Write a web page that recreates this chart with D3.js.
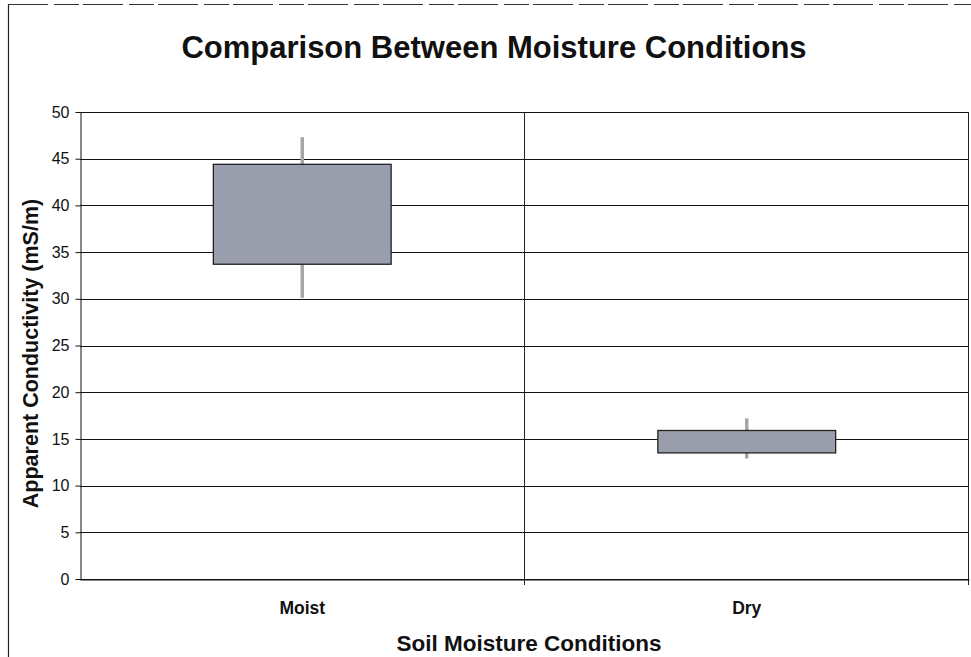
<!DOCTYPE html>
<html>
<head>
<meta charset="utf-8">
<script src="https://cdn.jsdelivr.net/npm/d3@7"></script>
<style>
  body { margin: 0; background: #fff; }
  svg { font-family: "Liberation Sans", Arial, sans-serif; }
</style>
</head>
<body>
<div id="chart"></div>
<script>
  // Data (high/low whiskers, open/close box)
  const categories = ["Moist", "Dry"];
  const highs = [47.3, 17.2];
  const lows = [30.1, 12.9];
  const boxTops = [44.4, 15.9];
  const boxBottoms = [33.7, 13.5];
  const yTicks = [0, 5, 10, 15, 20, 25, 30, 35, 40, 45, 50];

  const svgWidth = 971;
  const svgHeight = 657;
  const margin = { top: 112, right: 2, bottom: 78, left: 80 };

  const svg = d3.select("#chart")
    .append("svg")
    .attr("width", svgWidth)
    .attr("height", svgHeight);

  // Outer frame of the scanned chart
  svg.append("line")
    .attr("x1", 8.5).attr("x2", 8.5)
    .attr("y1", 4).attr("y2", svgHeight)
    .attr("stroke", "#222").attr("stroke-width", 1.2);
  svg.append("line")
    .attr("x1", 8).attr("x2", svgWidth)
    .attr("y1", 4.5).attr("y2", 4.5)
    .attr("stroke", "#333").attr("stroke-width", 1.2)
    .attr("stroke-dasharray", "40 6 25 4");

  // Scales
  const xScale = d3.scaleBand()
    .domain(categories)
    .range([margin.left, svgWidth - margin.right]);

  const yScale = d3.scaleLinear()
    .domain([0, 50])
    .range([svgHeight - margin.bottom, margin.top]);

  const plotLeft = margin.left, plotRight = svgWidth - margin.right;
  const plotTop = margin.top, plotBottom = svgHeight - margin.bottom;

  // Horizontal gridlines
  svg.append("g")
    .selectAll("line")
    .data(yTicks)
    .enter()
    .append("line")
    .attr("x1", plotLeft)
    .attr("x2", plotRight)
    .attr("y1", d => Math.round(yScale(d)) + 0.5)
    .attr("y2", d => Math.round(yScale(d)) + 0.5)
    .attr("stroke", "#111")
    .attr("stroke-width", 1.1);

  // Vertical line between categories and right border
  svg.append("g")
    .selectAll("line")
    .data(categories)
    .enter()
    .append("line")
    .attr("x1", d => Math.round(xScale(d) + xScale.bandwidth()) - 0.5)
    .attr("x2", d => Math.round(xScale(d) + xScale.bandwidth()) - 0.5)
    .attr("y1", plotTop)
    .attr("y2", plotBottom + 6)
    .attr("stroke", "#222")
    .attr("stroke-width", 1);

  // Y axis
  const yAxis = svg.append("g")
    .attr("transform", `translate(${plotLeft + 0.5}, 0)`)
    .call(d3.axisLeft(yScale).tickValues(yTicks).tickSize(5).tickSizeOuter(0).tickPadding(6));
  yAxis.select(".domain").attr("stroke", "#111");
  yAxis.selectAll(".tick line").attr("stroke", "#111").attr("x2", -5);
  yAxis.selectAll("text")
    .style("font-size", "16px")
    .style("fill", "#111");

  // X axis
  const xAxis = svg.append("g")
    .attr("transform", `translate(0, ${plotBottom + 0.5})`)
    .call(d3.axisBottom(xScale).tickSize(0).tickSizeOuter(0).tickPadding(22));
  xAxis.select(".domain").attr("stroke", "#111");
  xAxis.selectAll("text")
    .style("font-size", "17.5px")
    .style("font-weight", "bold")
    .style("fill", "#111");

  // Whiskers
  const cx = i => xScale(categories[i]) + xScale.bandwidth() / 2;
  svg.append("g")
    .selectAll("line")
    .data(categories)
    .enter()
    .append("line")
    .attr("x1", (d, i) => cx(i))
    .attr("x2", (d, i) => cx(i))
    .attr("y1", (d, i) => yScale(highs[i]))
    .attr("y2", (d, i) => yScale(lows[i]))
    .attr("stroke", "#a6a6a8")
    .attr("stroke-width", 3.5);

  // Boxes
  const boxW = xScale.bandwidth() * 0.4;
  svg.append("g")
    .selectAll("rect")
    .data(categories)
    .enter()
    .append("rect")
    .attr("x", (d, i) => cx(i) - boxW / 2)
    .attr("y", (d, i) => yScale(boxTops[i]))
    .attr("width", boxW)
    .attr("height", (d, i) => yScale(boxBottoms[i]) - yScale(boxTops[i]))
    .attr("fill", "#9a9dab")
    .attr("stroke", "#222")
    .attr("stroke-width", 1.3);

  // Titles
  svg.append("text")
    .attr("x", 494)
    .attr("y", 58)
    .attr("text-anchor", "middle")
    .style("font-size", "31px")
    .style("font-weight", "bold")
    .style("fill", "#111")
    .text("Comparison Between Moisture Conditions");

  svg.append("text")
    .attr("x", 529)
    .attr("y", 651)
    .attr("text-anchor", "middle")
    .style("font-size", "22.5px")
    .style("font-weight", "bold")
    .style("fill", "#111")
    .text("Soil Moisture Conditions");

  svg.append("text")
    .attr("transform", `translate(38, ${(plotTop + plotBottom) / 2 + 8}) rotate(-90)`)
    .attr("text-anchor", "middle")
    .style("font-size", "21.5px")
    .style("font-weight", "bold")
    .style("fill", "#111")
    .text("Apparent Conductivity (mS/m)");
</script>
</body>
</html>
